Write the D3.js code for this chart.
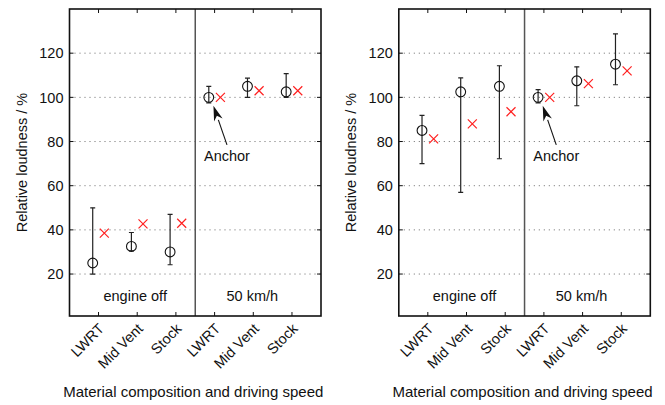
<!DOCTYPE html>
<html>
  <head>
    <style>
      body { margin: 0; background: #fff; }
      svg text { font-family: "Liberation Sans", Arial, sans-serif; font-size: 14.5px; fill: #111; }
      svg text.title { font-size: 15px; }
    </style>
  </head>
  <body>
    <svg id="chart" width="665" height="405"></svg>

    <script src="https://d3js.org/d3.v7.min.js"></script>
    <script type="text/javascript">
      const categories = ["LWRT", "Mid Vent", "Stock", "LWRT", "Mid Vent", "Stock"];
      const conditions = ["engine off", "50 km/h"];
      const yTicks = [20, 40, 60, 80, 100, 120];

      // left panel
      const leftMean = [25, 32.5, 30, 100, 105, 102.5];
      const leftLow = [20, 30.5, 24.2, 97.5, 100, 100];
      const leftHigh = [50, 38.8, 47, 105, 108.7, 110.7];
      const leftModel = [38.5, 42.7, 43, 100, 103, 103];

      // right panel
      const rightMean = [85, 102.5, 105, 100, 107.5, 115];
      const rightLow = [70, 57, 72.2, 97.5, 96.2, 105.7];
      const rightHigh = [91.8, 108.8, 114.3, 103.5, 113.8, 128.7];
      const rightModel = [81.2, 88, 93.5, 100, 106.2, 112];

      const svg = d3.select("#chart");
      const w = 251.5, plotTop = 9, plotBottom = 316;

      function panel(left, mean, low, high, model) {
        const g = svg.append("g").attr("transform", "translate(" + left + ",0)");
        const x = d3.scaleLinear().domain([0.25, 6.75]).range([0, w]);
        const y = d3.scaleLinear().domain([1, 140]).range([plotBottom, plotTop]);
        const idx = d3.range(1, 7);

        // grid
        g.selectAll(".grid").data(yTicks).enter().append("line")
          .attr("x1", 0).attr("x2", w)
          .attr("y1", d => y(d)).attr("y2", d => y(d))
          .attr("stroke", "#444").attr("stroke-width", 0.8)
          .attr("stroke-dasharray", "1,4");

        // inner ticks
        g.selectAll(".yt").data(yTicks).enter().append("path")
          .attr("d", d => "M0," + y(d) + "h4M" + w + "," + y(d) + "h-4")
          .attr("stroke", "#111");
        g.selectAll(".xt").data(idx).enter().append("path")
          .attr("d", d => "M" + x(d) + "," + plotTop + "v4M" + x(d) + "," + plotBottom + "v-4")
          .attr("stroke", "#111");

        // divider
        g.append("line")
          .attr("x1", x(3.5)).attr("x2", x(3.5)).attr("y1", plotTop).attr("y2", plotBottom)
          .attr("stroke", "#555").attr("stroke-width", 1.5);

        // frame
        g.append("rect").attr("x", 0).attr("y", plotTop).attr("width", w).attr("height", plotBottom - plotTop)
          .attr("fill", "none").attr("stroke", "#111").attr("stroke-width", 1.6);

        // y tick labels
        g.selectAll(".yl").data(yTicks).enter().append("text")
          .attr("x", -6).attr("y", d => y(d)).attr("dy", "0.36em")
          .attr("text-anchor", "end").text(d => d);

        // x tick labels
        g.selectAll(".xl").data(categories).enter().append("text")
          .attr("text-anchor", "end")
          .attr("transform", (d, i) => "translate(" + (x(i + 1) + 3) + "," + (plotBottom + 10) + ") rotate(-45)")
          .attr("dy", "0.35em")
          .text(d => d);

        // condition labels
        g.selectAll(".cl").data(conditions).enter().append("text")
          .attr("x", (d, i) => x(2 + i * 3) - (i === 0 ? 2 : 1))
          .attr("y", y(10)).attr("dy", "0.35em")
          .attr("text-anchor", "middle").text(d => d);

        // error bars
        const eb = g.selectAll(".eb").data(idx).enter().append("g")
          .attr("stroke", "#222").attr("stroke-width", 1.2);
        eb.append("line")
          .attr("x1", d => x(d - 0.15)).attr("x2", d => x(d - 0.15))
          .attr("y1", (d, i) => y(low[i])).attr("y2", (d, i) => y(high[i]));
        eb.append("path")
          .attr("d", (d, i) => "M" + (x(d - 0.15) - 2.5) + "," + y(low[i]) + "h5M" +
            (x(d - 0.15) - 2.5) + "," + y(high[i]) + "h5");

        // mean circles
        g.selectAll(".m").data(mean).enter().append("circle")
          .attr("cx", (d, i) => x(i + 1 - 0.15)).attr("cy", d => y(d)).attr("r", 4.9)
          .attr("fill", "none").attr("stroke", "#111").attr("stroke-width", 1.1);

        // model crosses
        g.selectAll(".c").data(model).enter().append("path")
          .attr("d", (d, i) => {
            const cx = x(i + 1 + 0.15), cy = y(d), s = 4.5;
            return "M" + (cx - s) + "," + (cy - s) + "L" + (cx + s) + "," + (cy + s) +
              "M" + (cx - s) + "," + (cy + s) + "L" + (cx + s) + "," + (cy - s);
          })
          .attr("stroke", "#ff2020").attr("stroke-width", 1.2).attr("fill", "none");

        // anchor annotation
        const tx = x(3.97), ty = y(96.2), bx = x(4.32), by = y(78.5);
        const ang = Math.atan2(by - ty, bx - tx);
        const L = 15, hw = 4.5;
        const ux = Math.cos(ang), uy = Math.sin(ang);
        const hx = tx + ux * L, hy = ty + uy * L;
        g.append("line").attr("x1", hx).attr("y1", hy).attr("x2", bx).attr("y2", by)
          .attr("stroke", "#111").attr("stroke-width", 1.1);
        g.append("path")
          .attr("d", "M" + tx + "," + ty + "L" + (hx - uy * hw) + "," + (hy + ux * hw) +
            "L" + (tx + ux * L * 0.7) + "," + (ty + uy * L * 0.7) +
            "L" + (hx + uy * hw) + "," + (hy - ux * hw) + "Z")
          .attr("fill", "#111");
        g.append("text").attr("x", x(4.32)).attr("y", y(73.5)).attr("dy", "0.35em")
          .attr("text-anchor", "middle").text("Anchor");

        // axis titles
        g.append("text")
          .attr("transform", "translate(-43," + ((plotTop + plotBottom) / 2) + ") rotate(-90)")
          .attr("text-anchor", "middle").text("Relative loudness / %");
        g.append("text").attr("class", "title").attr("x", w / 2 - 2).attr("y", 397)
          .attr("text-anchor", "middle").text("Material composition and driving speed");
      }

      panel(69.5, leftMean, leftLow, leftHigh, leftModel);
      panel(398.8, rightMean, rightLow, rightHigh, rightModel);
    </script>
  </body>
</html>
